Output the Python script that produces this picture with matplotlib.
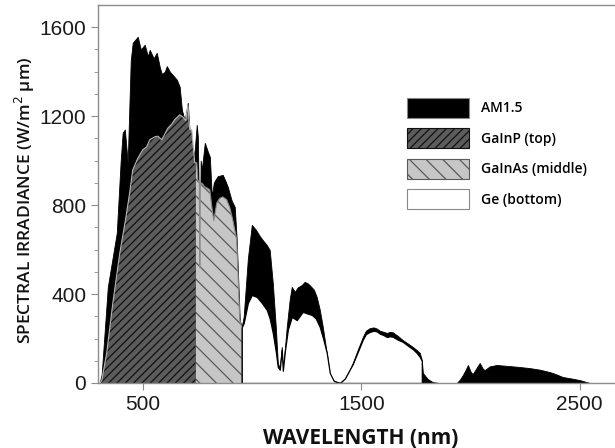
import matplotlib.pyplot as plt
from matplotlib.patches import Patch

# AM1.5 spectrum outline (nm, W/m^2 um)
am_wl = [303, 312, 340, 381, 399, 408, 418, 431, 445, 454, 477, 491, 509, 523, 532,
         550, 564, 578, 587, 601, 610, 624, 642, 656, 669, 679, 692, 706, 715, 729,
         738, 747, 752, 761, 765, 770, 784, 798, 807, 816, 825, 830, 843, 866, 880,
         889, 907, 921, 930, 944, 953, 962, 981, 999, 1017, 1036, 1049, 1068, 1081,
         1095, 1109, 1118, 1127, 1136, 1141, 1150, 1159, 1173, 1182, 1196, 1209, 1228,
         1241, 1255, 1264, 1283, 1296, 1310, 1324, 1338, 1347, 1356, 1374, 1402, 1425,
         1447, 1461, 1484, 1507, 1521, 1539, 1557, 1571, 1585, 1603, 1617, 1631, 1644,
         1667, 1690, 1713, 1736, 1754, 1768, 1777, 1782, 1804, 1827, 1859, 1937, 1951,
         1965, 1978, 1988, 2001, 2010, 2029, 2042, 2056, 2065, 2088, 2120, 2180, 2225,
         2271, 2317, 2363, 2390, 2422, 2464, 2500, 2546, 2800]
am_irr = [0, 40, 432, 675, 1000, 1125, 1140, 990, 1450, 1530, 1557, 1500, 1521, 1470, 1498,
          1460, 1485, 1420, 1390, 1400, 1425, 1400, 1380, 1364, 1332, 1229, 1180, 1260, 1120, 1000,
          1050, 1161, 1107, 540, 1000, 958, 1080, 1040, 1017, 837, 900, 910, 930, 936, 905,
          882, 820, 792, 643, 283, 252, 300, 560, 711, 690, 660, 643, 620, 598,
          450, 250, 90, 67, 162, 60, 150, 252, 380, 432, 410, 430, 441,
          455, 448, 440, 420, 387, 330, 252, 160, 103, 36, 10, 0, 20,
          60, 90, 150, 207, 235, 247, 250, 245, 235, 230, 225, 230, 228,
          212, 193, 178, 162, 148, 135, 103, 45, 18, 4, 0, 0, 15,
          36, 60, 81, 50, 40, 70, 90, 65, 58, 75, 81, 76, 72,
          67, 60, 49, 40, 27, 20, 13, 0, 0]

# portion of the spectrum used by each subcell
gainp_wl = [303, 312, 335, 363, 395, 422, 440, 454, 477, 500, 518, 532, 555, 569, 587,
            601, 614, 633, 646, 669, 683, 697, 706, 715, 724, 738, 743]
gainp_irr = [0, 10, 135, 360, 585, 740, 855, 958, 1010, 1049, 1062, 1094, 1107, 1110, 1094,
             1120, 1145, 1165, 1184, 1206, 1197, 1180, 1250, 1140, 1139, 990, 990]

gainas_wl = [743, 747, 752, 759, 761, 763, 770, 784, 798, 807, 816, 825, 839, 852, 866,
             884, 898, 912, 930, 944, 953]
gainas_irr = [990, 990, 913, 900, 520, 880, 900, 882, 875, 868, 792, 730, 810, 830, 837,
              824, 790, 733, 643, 283, 252]

ge_wl = [953, 962, 981, 999, 1022, 1045, 1068, 1081, 1095, 1109, 1118, 1127, 1136, 1141,
         1150, 1164, 1182, 1205, 1232, 1255, 1274, 1292, 1310, 1328, 1342, 1356, 1374,
         1402, 1425, 1447, 1461, 1484, 1507, 1521, 1539, 1557, 1571, 1585, 1603, 1617,
         1631, 1644, 1667, 1690, 1713, 1736, 1754, 1768, 1777]
ge_irr = [250, 270, 360, 396, 387, 360, 328, 290, 225, 140, 72, 60, 150, 55,
          140, 240, 297, 283, 320, 312, 306, 290, 252, 190, 135, 45, 10,
          0, 20, 60, 85, 140, 195, 220, 230, 235, 232, 222, 215, 207,
          210, 208, 195, 185, 168, 152, 135, 117, 100]

labels = ["AM1.5", "GaInP (top)", "GaInAs (middle)", "Ge (bottom)"]

plt.rcParams['hatch.linewidth'] = 0.9

fig = plt.figure(figsize=(6.15, 4.48), dpi=100)
ax = fig.add_axes([0.1593, 0.1451, 0.890, 0.8438])

ax.fill_between(am_wl, 0, am_irr, facecolor="black", edgecolor="black", lw=0.6, zorder=1)
ax.fill_between(gainp_wl, 0, gainp_irr, facecolor="#5c5c5c", edgecolor="#111111",
                hatch="////", lw=0, zorder=2)
ax.plot(gainp_wl, gainp_irr, color="#b5b5b5", lw=0.8, zorder=3)
ax.fill_between(gainas_wl, 0, gainas_irr, facecolor="#c6c6c6", edgecolor="#5a5a5a",
                hatch="\\\\", lw=0, zorder=2)
ax.plot(gainas_wl, gainas_irr, color="#8a8a8a", lw=0.8, zorder=3)
ax.fill_between(ge_wl, 0, ge_irr, facecolor="white", edgecolor="black", lw=0.9, zorder=2)

ax.set_xlim(295, 2800)
ax.set_ylim(0, 1700)
ax.set_xticks([500, 1500, 2500])
ax.set_yticks([0, 400, 800, 1200, 1600])
ax.set_yticks(range(0, 1700, 100), minor=True)

for side in ["left", "bottom", "top", "right"]:
    ax.spines[side].set_color("#8c8c8c")
    ax.spines[side].set_linewidth(1.0)

ax.tick_params(axis="both", which="major", length=5, color="#8c8c8c",
               labelsize=15, labelcolor="#1a1a1a")
ax.tick_params(axis="y", which="minor", length=3, color="#8c8c8c")
for lbl in ax.get_xticklabels() + ax.get_yticklabels():
    lbl.set_family("Liberation Sans")

ax.set_xlabel("WAVELENGTH (nm)", family="Open Sans", fontsize=15, fontweight="bold",
              color="#111111", labelpad=10)
ax.xaxis.label.set_x(0.48)
ax.set_ylabel("SPECTRAL IRRADIANCE (W/m$^2$ µm)", family="Open Sans", fontsize=12.5,
              fontweight="semibold", color="#111111", labelpad=2)
ax.yaxis.label.set_y(0.484)

handles = [
    Patch(facecolor="black", edgecolor="#888888", lw=0.8),
    Patch(facecolor="#5c5c5c", edgecolor="#111111", hatch="////", lw=0.8),
    Patch(facecolor="#c6c6c6", edgecolor="#5a5a5a", hatch="\\\\", lw=0.8),
    Patch(facecolor="white", edgecolor="#888888", lw=0.8),
]
leg = ax.legend(handles, labels, loc="upper left", bbox_to_anchor=(0.5645, 0.754),
                frameon=False, borderpad=0, borderaxespad=0,
                handlelength=4.45, handleheight=1.84, labelspacing=0.75,
                handletextpad=0.85, prop={"family": "Open Sans", "size": 10,
                                          "weight": "semibold"})

fig.savefig("out.png", dpi=100)
